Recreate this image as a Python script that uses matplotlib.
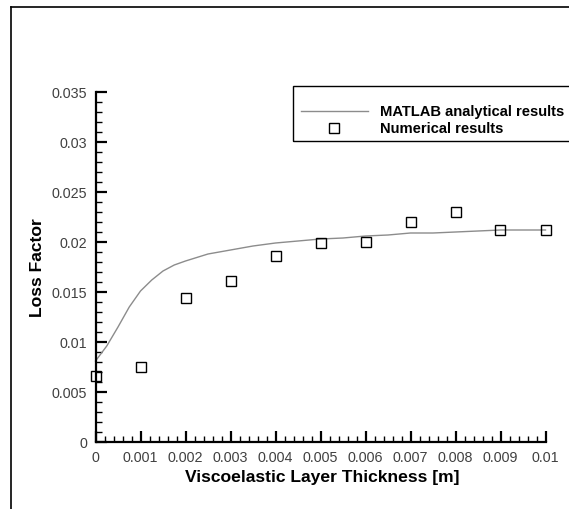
import matplotlib
matplotlib.use("Agg")
import matplotlib.pyplot as plt
from matplotlib.lines import Line2D
from matplotlib.patches import Rectangle
from matplotlib.ticker import MultipleLocator, FuncFormatter

plt.rcParams['font.family'] = ['Liberation Sans', 'DejaVu Sans']

# analytical curve (MATLAB)
line_x = [0, 0.00025, 0.0005, 0.00075, 0.001, 0.00125, 0.0015, 0.00175, 0.002, 0.0025,
          0.003, 0.0035, 0.004, 0.0045, 0.005, 0.0055, 0.006, 0.0065, 0.007, 0.0075,
          0.008, 0.0085, 0.009, 0.0095, 0.01]
line_y = [0.0081, 0.0096, 0.0115, 0.0135, 0.0151, 0.0162, 0.0171, 0.0177, 0.0181, 0.0188,
          0.0192, 0.0196, 0.0199, 0.0201, 0.0203, 0.0204, 0.0206, 0.0207, 0.0209, 0.0209,
          0.0210, 0.0211, 0.0212, 0.0212, 0.0212]

# numerical results
num_x = [0, 0.001, 0.002, 0.003, 0.004, 0.005, 0.006, 0.007, 0.008, 0.009, 0.01]
num_y = [0.00657, 0.00747, 0.01437, 0.01607, 0.01863, 0.01987, 0.02003,
         0.02197, 0.02297, 0.02123, 0.0212]

W, H = 569, 510
fig = plt.figure(figsize=(W / 100, H / 100), dpi=100)
ax = fig.add_axes([95.5 / W, 1 - 443 / H, 450 / W, 350 / H])

line_col = '#8c8c8c'
ax.plot(line_x, line_y, color=line_col, lw=1.0, clip_on=False)
ax.plot(num_x, num_y, ls='none', marker='s', ms=7.2, mfc='none', mec='black',
        mew=1.0, clip_on=False, zorder=5)

ax.set_xlim(0, 0.01)
ax.set_ylim(0, 0.035)
for s in ['top', 'right']:
    ax.spines[s].set_visible(False)
for s in ['left', 'bottom']:
    ax.spines[s].set_linewidth(1.6)

ax.xaxis.set_major_locator(MultipleLocator(0.001))
ax.xaxis.set_minor_locator(MultipleLocator(0.0002))
ax.yaxis.set_major_locator(MultipleLocator(0.005))
ax.yaxis.set_minor_locator(MultipleLocator(0.001))

fmt = FuncFormatter(lambda v, p: ('%.3f' % v).rstrip('0').rstrip('.') if abs(v) > 1e-12 else '0')
ax.xaxis.set_major_formatter(fmt)
ax.yaxis.set_major_formatter(fmt)

ax.tick_params(which='major', direction='in', length=8, width=1.6, labelsize=10.3,
               labelcolor='#404040', pad=6)
ax.tick_params(which='minor', direction='in', length=4, width=1.0)

ax.set_xlabel('Viscoelastic Layer Thickness [m]', fontsize=12.6, fontweight='bold')
ax.set_ylabel('Loss Factor', fontsize=12.6, fontweight='bold')
ax.xaxis.set_label_coords(0.503, -0.077)
ax.yaxis.set_label_coords(-0.112, 0.5)

# outer frame
fig.add_artist(Line2D([10.5 / W, 10.5 / W], [0, 1 - 7.5 / H], color='black', lw=1.2,
                      transform=fig.transFigure))
fig.add_artist(Line2D([10.5 / W, 1], [1 - 7.5 / H, 1 - 7.5 / H], color='black', lw=1.2,
                      transform=fig.transFigure))

# legend box
fig.add_artist(Rectangle((293 / W, 1 - 142 / H), (W - 293 + 20) / W, 55 / H,
                         fill=False, ec='black', lw=1.0, transform=fig.transFigure))
fig.add_artist(Line2D([301 / W, 368 / W], [1 - 112 / H, 1 - 112 / H], color=line_col,
                      lw=1.0, transform=fig.transFigure))
fig.add_artist(Line2D([334 / W], [1 - 129 / H], ls='none', marker='s', ms=7.2, mfc='none',
                      mec='black', mew=1.0, transform=fig.transFigure))
fig.text(380 / W, 1 - 112 / H, 'MATLAB analytical results', fontsize=10.6,
         fontweight='bold', va='center', ha='left')
fig.text(380 / W, 1 - 129 / H, 'Numerical results', fontsize=10.6,
         fontweight='bold', va='center', ha='left')

fig.savefig('out.png', dpi=100)
